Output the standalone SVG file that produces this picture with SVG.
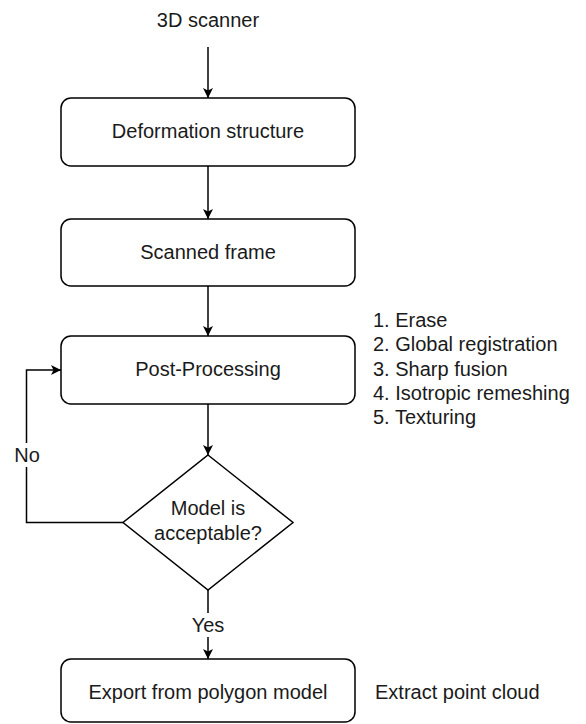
<svg xmlns="http://www.w3.org/2000/svg" width="586" height="724" viewBox="0 0 586 724">
<style>
text{font-family:"Liberation Sans",Arial,sans-serif;font-size:20px;fill:#1a1a1a}
.c{text-anchor:middle}
.box{fill:#fff;stroke:#000;stroke-width:1.5}
.ln{fill:none;stroke:#000;stroke-width:1.5}
</style>
<defs>
<marker id="ah" viewBox="0 0 10 10" refX="10" refY="5" markerWidth="10" markerHeight="10" markerUnits="userSpaceOnUse" orient="auto">
<path d="M0,0 L10,5 L0,10 L2.5,5 Z" fill="#000"/>
</marker>
</defs>
<rect width="586" height="724" fill="#fff"/>
<g id="connectors">
<path class="ln" d="M208,47 V98" marker-end="url(#ah)"/>
<path class="ln" d="M208,166 V219" marker-end="url(#ah)"/>
<path class="ln" d="M208,286 V336" marker-end="url(#ah)"/>
<path class="ln" d="M208,404 V455" marker-end="url(#ah)"/>
<path class="ln" d="M123,522.5 H26.5 V370 H61" marker-end="url(#ah)"/>
<path class="ln" d="M208,590 V659" marker-end="url(#ah)"/>
<rect x="14" y="443" width="26" height="24" fill="#fff"/>
<text x="27" y="462" class="c">No</text>
<rect x="190" y="613" width="36" height="24" fill="#fff"/>
<text x="208" y="632" class="c">Yes</text>
</g>
<g id="scanner"><text x="208" y="27" class="c">3D scanner</text></g>
<g id="deformation"><rect class="box" x="61" y="98" width="294" height="68" rx="10"/><text x="208" y="138" class="c">Deformation structure</text></g>
<g id="scanned"><rect class="box" x="61" y="219" width="294" height="67" rx="10"/><text x="208" y="259" class="c">Scanned frame</text></g>
<g id="postprocessing"><rect class="box" x="61" y="336" width="294" height="68" rx="10"/><text x="208" y="376" class="c">Post-Processing</text></g>
<g id="steps"><text x="373" y="327">1. Erase</text><text x="373" y="351.25">2. Global registration</text><text x="373" y="375.5">3. Sharp fusion</text><text x="373" y="399.75">4. Isotropic remeshing</text><text x="373" y="424">5. Texturing</text></g>
<g id="decision"><path class="box" d="M208,455 L293,522.5 L208,590 L123,522.5 Z"/><text x="208" y="515" class="c">Model is</text><text x="208" y="540" class="c">acceptable?</text></g>
<g id="export"><rect class="box" x="61" y="659" width="294" height="63" rx="10"/><text x="208" y="699" class="c">Export from polygon model</text></g>
<g id="extract"><text x="375" y="699">Extract point cloud</text></g>
</svg>
